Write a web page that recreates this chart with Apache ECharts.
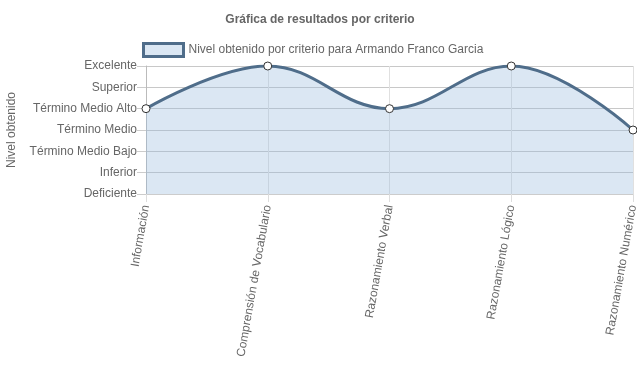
<!DOCTYPE html>
<html><head><meta charset="utf-8">
<script src="https://cdn.jsdelivr.net/npm/echarts@6/dist/echarts.min.js"></script>
<style>html,body{margin:0;padding:0;background:#fff}#c{width:637px;height:389px}</style>
</head><body><div id="c"></div>
<script>
const categories = ["Información","Comprensión de Vocabulario","Razonamiento Verbal","Razonamiento Lógico","Razonamiento Numérico"];
const levels = ["Deficiente","Inferior","Término Medio Bajo","Término Medio","Término Medio Alto","Superior","Excelente"];
const values = [4, 6, 4, 6, 3];
const seriesName = "Nivel obtenido por criterio para Armando Franco Garcia";
const fill = 'rgba(151,187,221,0.35)';
const chart = echarts.init(document.getElementById('c'));
chart.setOption({
  animation:false,
  textStyle:{fontFamily:'Arial, "Liberation Sans", sans-serif'},
  title:{text:"Gráfica de resultados por criterio",left:315,textAlign:'center',top:9,
    textStyle:{fontSize:12,fontWeight:'bold',color:'#666',fontFamily:'Arial, "Liberation Sans", sans-serif'}},
  legend:{top:42,left:142,itemWidth:40,itemHeight:13,itemGap:6,padding:0,
    textStyle:{fontSize:12,color:'#666'},
    data:[{name:seriesName,icon:'rect',itemStyle:{color:fill,borderColor:'#4f6d8a',borderWidth:3}}]},
  grid:{left:146,right:4,top:66,bottom:195,containLabel:false,outerBoundsMode:'none'},
  xAxis:{type:'category',data:categories,boundaryGap:false,
    axisLine:{show:true,lineStyle:{color:'#ccc'}},
    axisTick:{show:true,length:8,lineStyle:{color:'#ddd'}},
    axisLabel:{rotate:80,color:'#666',fontSize:12,margin:11,interval:0},
    splitLine:{show:true,lineStyle:{color:'#e0e0e0'}}},
  yAxis:{type:'value',min:0,max:6,interval:1,name:'Nivel obtenido',nameLocation:'middle',nameGap:128,
    nameTextStyle:{color:'#666',fontSize:12},
    axisLine:{show:true,lineStyle:{color:'#bbb'}},
    axisTick:{show:true,length:9,lineStyle:{color:'#ccc'}},
    axisLabel:{color:'#666',fontSize:12,margin:9,formatter:v=>levels[v]},
    splitLine:{show:true,lineStyle:{color:'#c8c8c8'}}},
  series:[{name:seriesName,type:'line',data:values,smooth:0.4,
    lineStyle:{color:'#4f6d8a',width:3},
    itemStyle:{color:'#fff',borderColor:'#333',borderWidth:1},
    symbol:'circle',symbolSize:8,showAllSymbol:true,
    areaStyle:{color:fill,opacity:1,origin:'start'}}]
});
</script></body></html>
